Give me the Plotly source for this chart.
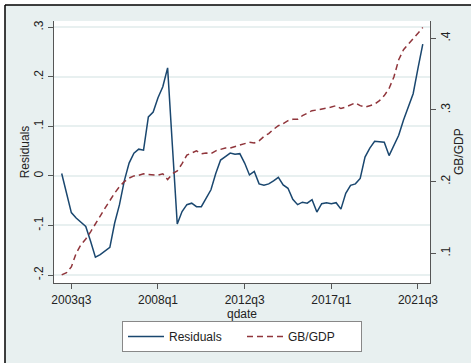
import plotly.graph_objects as go

# Quarterly dates 2003q1 .. 2021q4
start_year = 2003
n_quarters = 76
qdate = [f"{start_year + k // 4}q{k % 4 + 1}" for k in range(n_quarters)]

residuals = [
    0.005, -0.035, -0.074, -0.085, -0.094, -0.102, -0.132, -0.164, -0.159, -0.151,
    -0.144, -0.095, -0.058, -0.010, 0.026, 0.046, 0.054, 0.052, 0.119, 0.129,
    0.158, 0.180, 0.218, 0.060, -0.097, -0.072, -0.058, -0.055, -0.062, -0.062,
    -0.045, -0.028, 0.005, 0.032, 0.039, 0.046, 0.044, 0.045, 0.026, 0.002,
    0.009, -0.016, -0.019, -0.016, -0.010, -0.003, -0.018, -0.025, -0.047, -0.058,
    -0.053, -0.055, -0.048, -0.073, -0.056, -0.054, -0.056, -0.054, -0.067, -0.035,
    -0.019, -0.016, -0.005, 0.038, 0.056, 0.070, 0.069, 0.068, 0.041, 0.060,
    0.082, 0.113, 0.138, 0.166, 0.217, 0.266,
]

gb_gdp = [
    0.070, 0.073, 0.081, 0.100, 0.112, 0.120, 0.130, 0.142, 0.152, 0.163,
    0.174, 0.184, 0.193, 0.200, 0.205, 0.208, 0.209, 0.211, 0.210, 0.210,
    0.209, 0.211, 0.203, 0.211, 0.215, 0.225, 0.237, 0.240, 0.243, 0.239,
    0.240, 0.239, 0.243, 0.245, 0.247, 0.247, 0.249, 0.250, 0.253, 0.255,
    0.254, 0.257, 0.263, 0.267, 0.273, 0.278, 0.281, 0.285, 0.287, 0.287,
    0.292, 0.296, 0.299, 0.300, 0.301, 0.302, 0.304, 0.306, 0.302, 0.304,
    0.307, 0.310, 0.306, 0.304, 0.306, 0.308, 0.313, 0.320, 0.330, 0.346,
    0.370, 0.384, 0.392, 0.399, 0.407, 0.415,
]

x_ticks = ["2003q3", "2008q1", "2012q3", "2017q1", "2021q3"]
left_ticks = [-0.2, -0.1, 0.0, 0.1, 0.2, 0.3]
left_labels = ["-.2", "-.1", "0", ".1", ".2", ".3"]
right_ticks = [0.1, 0.2, 0.3, 0.4]
right_labels = [".1", ".2", ".3", ".4"]

BG = "#E8F0F0"
AXIS = "#555555"
TEXT = "#222222"
FONT = "Liberation Sans"

W, H = 471, 363
ML, MR, MT, MB = 54, 41, 21, 80
PW, PH = W - ML - MR, H - MT - MB


def px_x(p):
    return (p - ML) / PW


def px_y(p):
    return (H - MB - p) / PH


fig = go.Figure()
fig.add_trace(go.Scatter(
    x=qdate, y=residuals, name="Residuals", mode="lines",
    line=dict(color="#1A476F", width=1.5), yaxis="y",
))
fig.add_trace(go.Scatter(
    x=qdate, y=gb_gdp, name="GB/GDP", mode="lines",
    line=dict(color="#90353B", width=1.5, dash="6px,4px"), yaxis="y2",
))

axis_common = dict(
    showline=True, linecolor=AXIS, linewidth=1,
    ticks="outside", ticklen=5, tickcolor=AXIS, tickwidth=1,
    tickfont=dict(size=12, color=TEXT, family=FONT),
    zeroline=False, automargin=False,
)

fig.update_layout(
    width=W, height=H,
    margin=dict(l=ML, r=MR, t=MT, b=MB, autoexpand=False),
    paper_bgcolor=BG, plot_bgcolor="white",
    font=dict(family=FONT, size=12, color=TEXT),
    xaxis=dict(
        **axis_common,
        type="category",
        range=[-1.6, 76.5],
        tickmode="array", tickvals=x_ticks, ticktext=x_ticks,
        showgrid=False,
        ticklabelstandoff=1,
        title=dict(text="qdate", standoff=3, font=dict(size=12, color=TEXT)),
    ),
    yaxis=dict(
        **axis_common,
        range=[-0.2161, 0.3127],
        tickmode="array", tickvals=left_ticks, ticktext=left_labels,
        tickangle=-90,
        showgrid=True, gridcolor=BG, gridwidth=1.5,
        title=dict(text="Residuals", standoff=0, font=dict(size=12, color=TEXT)),
    ),
    yaxis2=dict(
        **axis_common,
        overlaying="y", side="right",
        range=[0.0586, 0.4241],
        tickmode="array", tickvals=right_ticks, ticktext=right_labels,
        tickangle=-90,
        showgrid=False,
    ),
    legend=dict(
        orientation="h", x=0.5, xanchor="center",
        y=px_y(321), yanchor="top",
        bgcolor="white", bordercolor="#888888", borderwidth=1,
        font=dict(size=12, color=TEXT, family=FONT),
        itemwidth=36,
        entrywidth=68,
    ),
    showlegend=True,
)

# right-hand axis title
fig.add_annotation(
    text="GB/GDP", xref="paper", yref="paper",
    x=px_x(459), y=0.5, xanchor="center", yanchor="middle",
    textangle=-90, showarrow=False,
    font=dict(size=12, color=TEXT, family=FONT),
)

# white outer strip and black frame along the top and left edges
x_lo, x_hi = px_x(-2), px_x(W + 2)
y_lo, y_hi = px_y(H + 2), px_y(-2)
fig.add_shape(type="rect", xref="paper", yref="paper",
              x0=x_lo, x1=x_hi, y0=px_y(5), y1=y_hi,
              fillcolor="white", line_width=0, layer="below")
fig.add_shape(type="rect", xref="paper", yref="paper",
              x0=x_lo, x1=px_x(5), y0=y_lo, y1=y_hi,
              fillcolor="white", line_width=0, layer="below")
fig.add_shape(type="line", xref="paper", yref="paper",
              x0=px_x(5), x1=x_hi, y0=px_y(5), y1=px_y(5),
              line=dict(color="black", width=1.5), layer="below")
fig.add_shape(type="line", xref="paper", yref="paper",
              x0=px_x(5), x1=px_x(5), y0=y_lo, y1=px_y(5),
              line=dict(color="black", width=1.5), layer="below")

fig.write_html("out.html")
